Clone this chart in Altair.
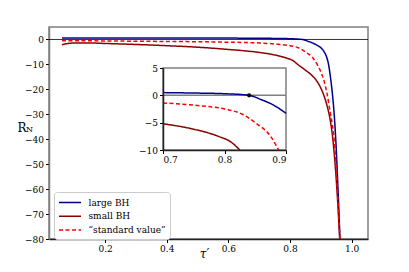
import altair as alt
import pandas as pd

# ---- data ----
tau_large = [0.06, 0.1, 0.2, 0.3, 0.4, 0.5, 0.6, 0.7, 0.75, 0.8, 0.84, 0.86, 0.88, 0.89, 0.9,
             0.91, 0.92, 0.925, 0.93, 0.935, 0.94, 0.945, 0.95, 0.955, 0.959, 0.962]
rn_large = [0.6, 0.6, 0.6, 0.6, 0.6, 0.58, 0.55, 0.5, 0.42, 0.3, 0.0, -0.8, -1.8, -2.5, -3.3,
            -4.8, -7.5, -10, -14, -19, -25, -33, -44, -58, -70, -80]

tau_small = [0.06, 0.08, 0.1, 0.15, 0.2, 0.3, 0.4, 0.5, 0.6, 0.7, 0.75, 0.79, 0.81, 0.825,
             0.85, 0.87, 0.886, 0.9, 0.91, 0.92, 0.93, 0.939, 0.945, 0.951, 0.956, 0.961]
rn_small = [-2.1, -1.6, -1.4, -1.4, -1.6, -2.0, -2.5, -3.1, -4.0, -5.2, -6.2, -7.5, -8.5, -10,
            -12.3, -14.3, -16.5, -19.5, -22.5, -26.5, -32, -40, -48, -58, -68, -80]

tau_std = [0.06, 0.1, 0.2, 0.3, 0.4, 0.5, 0.6, 0.7, 0.75, 0.8, 0.83, 0.85, 0.875, 0.888,
           0.9, 0.91, 0.919, 0.93, 0.937, 0.943, 0.948, 0.953, 0.958, 0.962]
rn_std = [-0.5, -0.5, -0.6, -0.7, -0.8, -0.9, -1.1, -1.4, -1.8, -2.5, -3.5, -5.0, -7.5, -10,
          -13, -16.5, -21, -29, -34, -40, -48, -58, -70, -80]

series_names = ["large BH", "small BH", "\u201cstandard value\u201d"]
series_colors = ["#00008B", "#8B0000", "#FF0000"]
series_dash = [[1, 0], [1, 0], [4, 2.5]]

main_x_ticks = [0.2, 0.4, 0.6, 0.8, 1.0]
main_y_ticks = [0, -10, -20, -30, -40, -50, -60, -70, -80]
inset_x_ticks = [0.7, 0.8, 0.9]
inset_y_ticks = [5, 0, -5, -10]
crossing = {"x": [0.84], "y": [0.0]}

rows = []
for name, xs, ys in [(series_names[0], tau_large, rn_large),
                     (series_names[1], tau_small, rn_small),
                     (series_names[2], tau_std, rn_std)]:
    for i, (a, b) in enumerate(zip(xs, ys)):
        rows.append({"series": name, "x": a, "y": b, "order": i})
df = pd.DataFrame(rows)

FONT = "DejaVu Serif"

legend = alt.Legend(
    title=None, orient="none", legendX=5, legendY=165, padding=4,
    strokeColor="#cccccc", fillColor="white", cornerRadius=3,
    symbolType="M-2,0H2", symbolSize=121, symbolOffset=5.5, symbolStrokeWidth=1.5,
    labelOffset=12, labelFont=FONT, labelFontSize=9, rowPadding=1.7, labelColor="black",
)

color = alt.Color("series:N", scale=alt.Scale(domain=series_names, range=series_colors), legend=legend)
dash = alt.StrokeDash("series:N", scale=alt.Scale(domain=series_names, range=series_dash), legend=legend)

tick_style = dict(labelFont=FONT, labelFontSize=9, labelColor="black", tickColor="black",
                  tickSize=3.5, tickWidth=1, labelPadding=2, labelOverlap=False, grid=False)

# ---- main panel ----
mx = alt.X("x:Q", scale=alt.Scale(domain=[0.018, 1.053], nice=False, zero=False),
           axis=alt.Axis(values=main_x_ticks, format=".1f", title="\u03c4\u2032",
                         titleFontStyle="italic", titleFont=FONT, titleFontSize=12,
                         titleFontWeight="normal", titleX=155, titleY=18, titleColor="black",
                         titleBaseline="alphabetic", titleAlign="center",
                         domainColor="#222222", domainWidth=1.5, orient="bottom", **tick_style))
my = alt.Y("y:Q", scale=alt.Scale(domain=[-80, 5], nice=False, zero=False),
           axis=alt.Axis(values=main_y_ticks, format="d", title="R", titleAngle=0,
                         titleFont=FONT, titleFontSize=12, titleFontWeight="normal",
                         titleX=-27.5, titleY=104, titleAlign="center", titleColor="black",
                         titleBaseline="alphabetic", domainColor="#808080",
                         domainWidth=1.5, orient="left", **tick_style))

main_lines = alt.Chart(df).mark_line(strokeWidth=1.5, clip=True, interpolate="monotone").encode(
    x=mx, y=my, color=color, strokeDash=dash, order="order:Q")

zero_df = pd.DataFrame({"y": [0]})
main_zero = alt.Chart(zero_df).mark_rule(color="black", strokeWidth=0.8).encode(y=my)

sub_df = pd.DataFrame({"t": ["N"]})
subscript = alt.Chart(sub_df).mark_text(font=FONT, fontSize=8, align="center",
                                        baseline="alphabetic", color="black").encode(
    text="t:N", x=alt.value(-19.5), y=alt.value(105))

main = alt.layer(main_lines, main_zero, subscript)

# ---- inset panel ----
ix_scale = alt.Scale(domain=[0.7, 0.9], range=[114, 237], nice=False, zero=False)
iy_scale = alt.Scale(domain=[-10, 5], range=[123, 41], nice=False, zero=False)
ix = alt.X("x:Q", scale=ix_scale,
           axis=alt.Axis(values=inset_x_ticks, format=".1f", title=None, orient="bottom",
                         offset=-89, domainColor="#222222", domainWidth=1.5, zindex=2, **tick_style))
iy = alt.Y("y:Q", scale=iy_scale,
           axis=alt.Axis(values=inset_y_ticks, format="d", title=None, orient="left",
                         offset=-114, domainColor="#222222", domainWidth=1.5, zindex=2, **tick_style))

frame_df = pd.DataFrame({"x": [0.7], "x2": [0.9], "y": [-10], "y2": [5]})
inset_frame = alt.Chart(frame_df).mark_rect(fill="white", stroke="#808080", strokeWidth=1.5).encode(
    x=ix, x2="x2:Q", y=iy, y2="y2:Q")

izero_df = pd.DataFrame({"x": [0.7], "x2": [0.9], "y": [0]})
inset_zero = alt.Chart(izero_df).mark_rule(color="#808080", strokeWidth=1.5).encode(
    x=ix, x2="x2:Q", y=iy)

inset_lines = alt.Chart(df).transform_filter(
    "datum.x >= 0.7 && datum.x <= 0.9 && datum.y >= -10"
).mark_line(strokeWidth=1.5, interpolate="monotone").encode(
    x=ix, y=iy,
    color=alt.Color("series:N", scale=alt.Scale(domain=series_names, range=series_colors), legend=None),
    strokeDash=alt.StrokeDash("series:N", scale=alt.Scale(domain=series_names, range=series_dash), legend=None),
    order="order:Q")

dot = alt.Chart(pd.DataFrame(crossing)).mark_point(filled=True, color="black", size=18, opacity=1).encode(
    x=ix, y=iy)

inset = alt.layer(inset_frame, inset_zero, inset_lines, dot)

chart = alt.layer(main, inset).resolve_scale(x="independent", y="independent").properties(
    width=319, height=212,
    autosize=alt.AutoSizeParams(type="none"),
    padding={"left": 41, "top": 19, "right": 33, "bottom": 25},
).configure(font=FONT).configure_view(stroke="#808080", strokeWidth=1.5).configure_axis(
    labelFont=FONT, labelFontSize=9, labelColor="black", titleColor="black",
).configure_legend(labelFont=FONT, labelFontSize=9)

chart.save("out.html", embed_options={"renderer": "svg", "actions": False})
